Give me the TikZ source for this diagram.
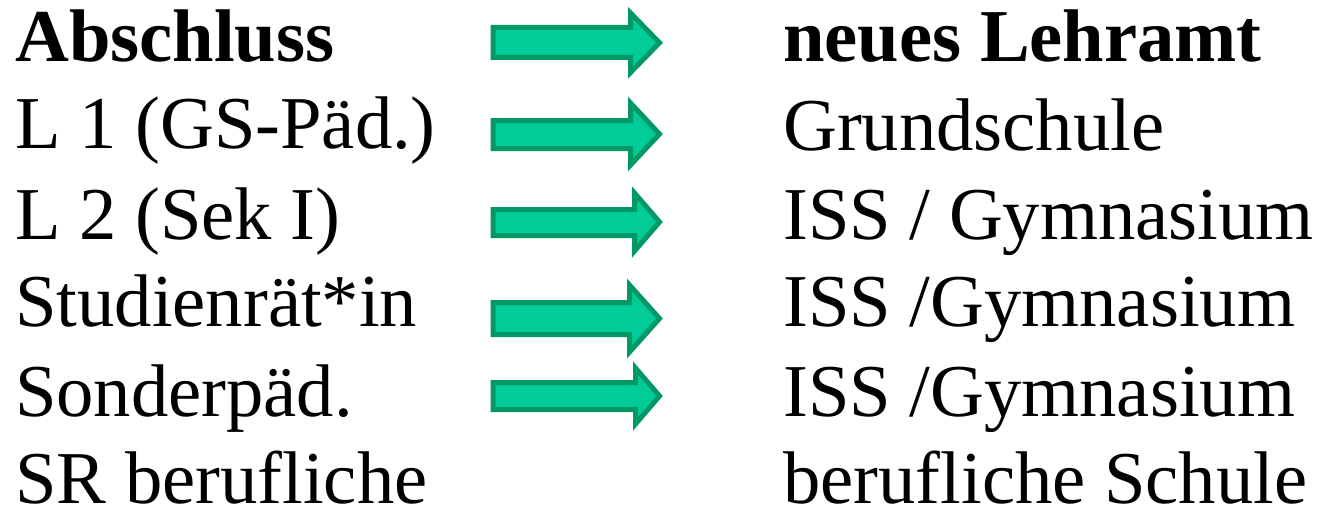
\documentclass[tikz,border=0pt]{standalone}
\usepackage{fontspec}
\setmainfont{Liberation Serif}
\definecolor{arrfill}{HTML}{00CC99}
\definecolor{arrline}{HTML}{009966}
\newcommand{\garrow}[7]{%
  \filldraw[arrow] (#1,#2) -- (#4,#2) -- (#4,#5) -- (#7,{(#5+#6)/2}) -- (#4,#6) -- (#4,#3) -- (#1,#3) -- cycle;}
\begin{document}
\begin{tikzpicture}[x=1pt,y=-1pt,
  txt/.style={anchor=base west,inner sep=0pt,font=\fontsize{74.6}{80}\selectfont},
  arrow/.style={fill=arrfill,draw=arrline,line width=5pt,line join=miter}]
\useasboundingbox (0,0) rectangle (1318,511);
\node[txt,font=\fontsize{74.6}{80}\selectfont\bfseries] (l0) at (15,62) {Abschluss};
\node[txt] (l1) at (15,148) {L 1 (GS-Päd.)};
\node[txt] (l2) at (15,239) {L 2 (Sek I)};
\node[txt] (l3) at (15,326) {Studienrät*in};
\node[txt] (l4) at (15,416) {Sonderpäd.};
\node[txt] (l5) at (15,503) {SR berufliche};
\node[txt,font=\fontsize{74.6}{80}\selectfont\bfseries] (r0) at (783,62) {neues Lehramt};
\node[txt] (r1) at (783,150) {Grundschule};
\node[txt] (r2) at (783,239) {ISS / Gymnasium};
\node[txt] (r3) at (783,326) {ISS /Gymnasium};
\node[txt] (r4) at (783,416) {ISS /Gymnasium};
\node[txt] (r5) at (783,503) {berufliche Schule};
\garrow{493}{27.5}{57.5}{630.5}{13}{72.5}{659.5}
\garrow{493}{120.5}{148.5}{630.5}{103}{165}{659.5}
\garrow{493}{209.5}{235.5}{634.5}{193}{251}{659.5}
\garrow{493}{302.5}{334.5}{629.5}{285}{352}{659.5}
\garrow{493}{382.5}{409.5}{635.5}{368}{424}{659.5}
\end{tikzpicture}
\end{document}
